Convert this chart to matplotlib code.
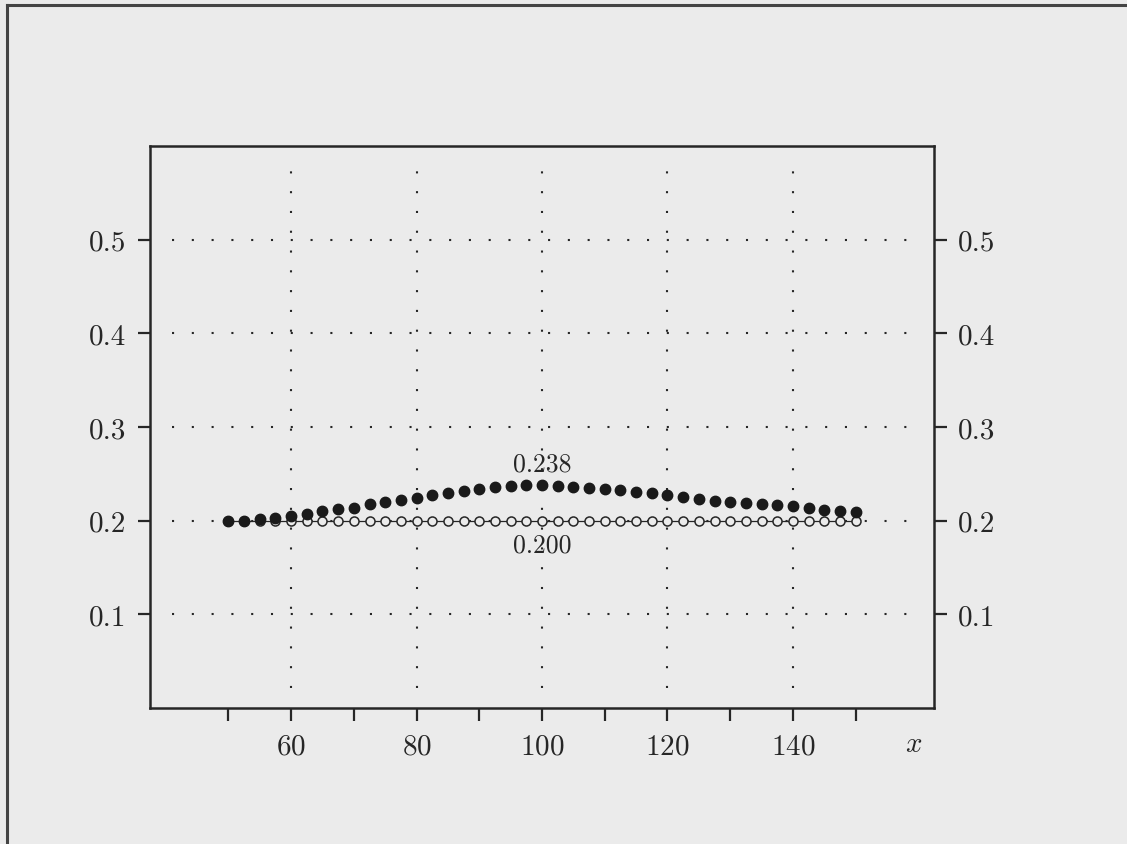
import numpy as np
import matplotlib
matplotlib.use("Agg")
import matplotlib.pyplot as plt
from matplotlib.lines import Line2D

plt.rcParams['font.family'] = 'serif'
plt.rcParams['font.serif'] = ['cmr10', 'DejaVu Serif']
plt.rcParams['mathtext.fontset'] = 'cm'
plt.rcParams['axes.formatter.use_mathtext'] = True

# ---- data ----
x_vals = np.arange(50, 150.01, 2.5)
filled_vals = [0.200, 0.200, 0.202, 0.203, 0.205, 0.2075, 0.210, 0.212, 0.214, 0.218,
               0.220, 0.222, 0.224, 0.227, 0.230, 0.232, 0.234, 0.2355, 0.2366, 0.2376,
               0.238, 0.2366, 0.2358, 0.2351, 0.2337, 0.233, 0.231, 0.2294, 0.2272, 0.2251,
               0.223, 0.2212, 0.2197, 0.219, 0.2183, 0.2172, 0.2154, 0.2133, 0.2115, 0.2104,
               0.2093]
open_vals = [0.200] * len(x_vals)
x_major = [60, 80, 100, 120, 140]
x_minor = [50, 70, 90, 110, 130, 150]
y_ticks = [0.1, 0.2, 0.3, 0.4, 0.5]
y_labels = ['0.1', '0.2', '0.3', '0.4', '0.5']
peak_label = '0.238'
base_label = '0.200'
xlim = (37.5, 162.5)
ylim = (0.0, 0.6)

bg = '#ebebeb'
ink = '#262626'

fig = plt.figure(figsize=(11.27, 8.45), dpi=100, facecolor=bg)
ax = fig.add_axes([0.1331, 0.1609, 0.6957, 0.6651])
ax.set_facecolor(bg)
ax.set_xlim(*xlim)
ax.set_ylim(*ylim)

# inset dotted grid
xin = 0.028 * (xlim[1] - xlim[0])
yin = 0.035 * (ylim[1] - ylim[0])
for yv in y_ticks:
    ax.plot([xlim[0] + xin, xlim[1] - xin], [yv, yv], color=ink, lw=1.5,
            linestyle=(0, (1, 8.5)), zorder=1)
for xv in x_major:
    ax.plot([xv, xv], [ylim[0] + yin, ylim[1] - yin], color=ink, lw=1.5,
            linestyle=(0, (1, 8.5)), zorder=1)

# series
ax.plot(x_vals, open_vals, color=ink, lw=0.9, zorder=2)
ax.plot(x_vals, open_vals, linestyle='none', marker='o', ms=6.5, mfc=bg,
        mec=ink, mew=1.1, zorder=3)
ax.plot(x_vals, filled_vals, linestyle='none', marker='o', ms=7.5, mfc='#1a1a1a',
        mec='#1a1a1a', zorder=4)

# annotations
i_peak = int(np.argmax(filled_vals))
ax.annotate(peak_label, (x_vals[i_peak], filled_vals[i_peak]), xytext=(0, 7),
            textcoords='offset points', ha='center', va='bottom', fontsize=18.5, color=ink)
ax.annotate(base_label, (x_vals[i_peak], open_vals[i_peak]), xytext=(0, -9),
            textcoords='offset points', ha='center', va='top', fontsize=18.5, color=ink)

# ticks
ax.set_xticks(x_major)
ax.set_xticks(x_minor, minor=True)
ax.set_yticks(y_ticks)
ax.set_yticklabels(y_labels)
ax.tick_params(axis='x', which='both', direction='out', length=9, width=1.6,
               color=ink, labelsize=21, labelcolor=ink, pad=9)
ax.tick_params(axis='y', which='both', direction='out', length=9, width=1.6,
               color=ink, labelsize=21, labelcolor=ink, left=True, right=True,
               labelleft=True, labelright=True, pad=8)
for s in ax.spines.values():
    s.set_linewidth(1.8)
    s.set_color(ink)

ax.text(159.3, -0.024, r'$x$', fontsize=21, color=ink, ha='center', va='top')

# outer frame (top and left edges)
fig.add_artist(Line2D([7 / 1127, 7 / 1127], [0, 1 - 6 / 845], transform=fig.transFigure,
                      color='#444444', lw=2.2))
fig.add_artist(Line2D([7 / 1127, 1], [1 - 6 / 845, 1 - 6 / 845], transform=fig.transFigure,
                      color='#444444', lw=2.2))

fig.savefig('out.png', dpi=100, facecolor=bg)
